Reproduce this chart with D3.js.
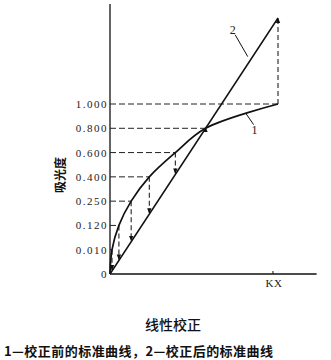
<!DOCTYPE html>
<html>
<head>
<meta charset="utf-8">
<script src="https://cdn.jsdelivr.net/npm/d3@7"></script>
<style>
  body { margin: 0; background: #fff; }
  svg { display: block; }
  .tick-label { font-family: "Liberation Serif", serif; font-size: 11px; letter-spacing: 1.5px; fill: #222; }
  .cjk { font-family: "Noto Sans CJK SC", sans-serif; fill: #111; }
</style>
</head>
<body>
<svg id="chart" width="331" height="360"></svg>
<script>
// ========== DATA ==========
// absorbance tick labels, drawn evenly spaced (index = level)
const yTicks = ["0", "0.010", "0.120", "0.250", "0.400", "0.600", "0.800", "1.000"];
// curve 1 (before correction): concentration (KX = 1) at each absorbance level
const curve1X = [0, 0.012, 0.053, 0.126, 0.234, 0.389, 0.569, 1.0];
// line 2 (after correction): straight line, end level in tick-index units
const line2 = [[0, 0], [1.0, 10.54]];
const xLabel = "KX";
const yLabel = "吸光度";
const title = "线性校正";
const caption = "1—校正前的标准曲线，2—校正后的标准曲线";

// ========== SCALES ==========
const x = d3.scaleLinear().domain([0, 1]).range([110, 278]);
const y = d3.scaleLinear().domain([0, 7]).range([274, 104]);
const line2Y = cx => line2[0][1] + (line2[1][1] - line2[0][1]) * (cx - line2[0][0]) / (line2[1][0] - line2[0][0]);

const svg = d3.select("#chart");

svg.append("defs").append("marker")
  .attr("id", "arrow")
  .attr("viewBox", "0 0 10 10")
  .attr("refX", 9).attr("refY", 5)
  .attr("markerWidth", 5).attr("markerHeight", 5)
  .attr("orient", "auto")
  .append("path")
  .attr("d", "M0,1 L10,5 L0,9 Z")
  .attr("fill", "#111");

// ========== AXES ==========
svg.append("line")
  .attr("x1", x(0)).attr("x2", x(0))
  .attr("y1", 4).attr("y2", y(0))
  .attr("stroke", "#111").attr("stroke-width", 1.3);

svg.append("line")
  .attr("x1", x(0)).attr("x2", x(1.23))
  .attr("y1", y(0)).attr("y2", y(0))
  .attr("stroke", "#111").attr("stroke-width", 1.5);

// KX tick
svg.append("line")
  .attr("x1", x(0.97)).attr("x2", x(0.97))
  .attr("y1", y(0)).attr("y2", y(0) - 3)
  .attr("stroke", "#111");
svg.append("text")
  .attr("class", "tick-label")
  .attr("x", x(0.97) + 1).attr("y", 287)
  .attr("text-anchor", "middle")
  .style("letter-spacing", "0.5px")
  .text(xLabel);

// y tick labels
svg.selectAll(".ylab")
  .data(yTicks)
  .join("text")
  .attr("class", "tick-label")
  .attr("x", x(0) - 2)
  .attr("y", (d, i) => y(i) + 4)
  .attr("text-anchor", "end")
  .text(d => d);

// ========== DASHED GUIDES ==========
const pts = curve1X.map((cx, i) => ({ cx, level: i }));

// horizontal dashes from the axis to curve 1
svg.selectAll(".hdash")
  .data(pts.slice(1))
  .join("line")
  .attr("x1", x(0)).attr("x2", d => x(d.cx))
  .attr("y1", d => y(d.level)).attr("y2", d => y(d.level))
  .attr("stroke", "#222").attr("stroke-width", 1)
  .attr("stroke-dasharray", "6,3");

// vertical arrows from curve 1 to line 2
svg.selectAll(".vdash")
  .data(pts.slice(1))
  .join("line")
  .attr("x1", d => x(d.cx)).attr("x2", d => x(d.cx))
  .attr("y1", d => y(d.level))
  .attr("y2", d => {
    const t = line2Y(d.cx);
    return t > d.level ? y(t) : y(t) - 1;
  })
  .attr("stroke", "#222").attr("stroke-width", 1.1)
  .attr("stroke-dasharray", "5,3")
  .attr("marker-end", "url(#arrow)");

// ========== LINES ==========
svg.append("path")
  .datum(pts)
  .attr("fill", "none")
  .attr("stroke", "#111").attr("stroke-width", 1.7)
  .attr("d", d3.line().x(d => x(d.cx)).y(d => y(d.level)).curve(d3.curveCatmullRom.alpha(0.5)));

svg.append("path")
  .datum(line2)
  .attr("fill", "none")
  .attr("stroke", "#111").attr("stroke-width", 1.5)
  .attr("d", d3.line().x(d => x(d[0])).y(d => y(d[1])));

// line labels with leaders
const labels = [
  { t: "2", lx: 0.735, ly: 9.9, ax: 0.745, ay: 9.85, bx: 0.82, by: 8.95 },
  { t: "1", lx: 0.865, ly: 5.75, ax: 0.81, ay: 6.6, bx: 0.855, by: 6.15 }
];
labels.forEach(l => {
  svg.append("line")
    .attr("x1", x(l.ax)).attr("y1", y(l.ay))
    .attr("x2", x(l.bx)).attr("y2", y(l.by))
    .attr("stroke", "#111").attr("stroke-width", 1);
  svg.append("text")
    .attr("class", "tick-label")
    .attr("x", x(l.lx)).attr("y", y(l.ly))
    .attr("text-anchor", "middle")
    .style("font-size", "12px")
    .text(l.t);
});

// ========== TEXT ==========
svg.append("text")
  .attr("class", "cjk")
  .attr("transform", "translate(65,175) rotate(-90)")
  .attr("text-anchor", "middle")
  .style("font-size", "12px")
  .style("font-weight", "bold")
  .text(yLabel);

svg.append("text")
  .attr("class", "cjk")
  .attr("x", 173).attr("y", 330)
  .attr("text-anchor", "middle")
  .style("font-size", "14px")
  .style("font-weight", "500")
  .text(title);

svg.append("text")
  .attr("class", "cjk")
  .attr("x", 4).attr("y", 356)
  .style("font-size", "13px")
  .style("font-weight", "bold")
  .attr("textLength", 269)
  .text(caption);
</script>
</body>
</html>
